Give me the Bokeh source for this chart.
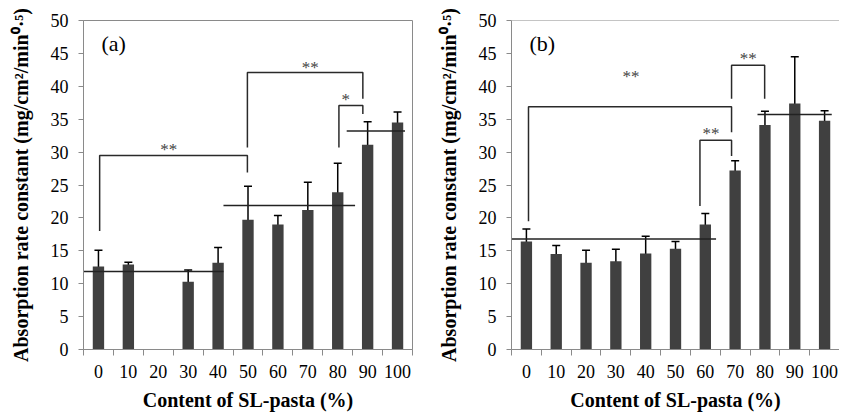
from bokeh.plotting import figure
from bokeh.layouts import row
from bokeh.models import (ColumnDataSource, Range1d, FixedTicker, Whisker, TeeHead,
                          Label, Span)
from bokeh.embed import file_html
from bokeh.resources import INLINE
from bokeh.core.properties import value
import math

# ---------------- data ----------------
categories = ["0", "10", "20", "30", "40", "50", "60", "70", "80", "90", "100"]

rate_a = [12.6, 12.9, float("nan"), 10.3, 13.2, 19.7, 19.0, 21.2, 23.9, 31.1, 34.5]
err_a = [2.5, 0.35, float("nan"), 1.8, 2.3, 5.1, 1.35, 4.2, 4.4, 3.5, 1.6]

rate_b = [16.4, 14.5, 13.2, 13.4, 14.6, 15.3, 19.0, 27.2, 34.1, 37.4, 34.75]
err_b = [1.9, 1.3, 1.9, 1.85, 2.6, 1.1, 1.65, 1.5, 2.1, 7.1, 1.55]

# group mean lines: (start position, end position, level)
means_a = [(0.0, 4.68, 11.85), (4.68, 9.08, 21.9), (8.8, 10.75, 33.2)]
means_b = [(0.0, 6.86, 16.8), (8.25, 10.74, 35.7)]

# significance brackets: (x left, x right, top, left leg end, right leg end, label, label x, label y)
brackets_a = [
    (0.54, 5.48, 29.5, 18.0, 26.9, "**", 2.85, 31.0),
    (5.48, 9.34, 42.1, 30.7, 38.1, "**", 7.58, 43.5),
    (8.54, 9.34, 37.1, 30.7, 35.8, "*", 8.77, 38.6),
]
brackets_b = [
    (0.57, 7.38, 36.9, 19.5, 33.0, "**", 4.01, 42.1),
    (6.32, 7.38, 31.8, 21.8, 29.4, "**", 6.69, 33.5),
    (7.38, 8.49, 43.2, 38.1, 38.1, "**", 7.94, 44.9),
]

y_ticks = list(range(0, 51, 5))
panel_tags = ["(a)", "(b)"]
y_title = "Absorption rate constant (mg/cm\u00b2/min\u2070\u00b7\u2075)"
x_title = "Content of SL-pasta (%)"

# ---------------- style ----------------
FONT = "Liberation Serif"
AXIS_GREY = "#8a8a8a"
BAR = "#404040"


def make_panel(rate, err, means, brackets, tag, width, bl, br, show_outline):
    p = figure(width=width, height=416, output_backend="svg", toolbar_location=None,
               x_range=Range1d(0, len(categories)), y_range=Range1d(0, 50),
               min_border_left=bl, min_border_right=br, min_border_top=20,
               min_border_bottom=67)
    p.grid.visible = False
    p.background_fill_color = "white"
    p.border_fill_color = "white"
    if show_outline:
        p.outline_line_color = AXIS_GREY
        p.outline_line_width = 1
    else:
        p.outline_line_color = None
        p.add_layout(Span(location=50, dimension="width", line_color=AXIS_GREY, line_width=1))

    xs = [i + 0.5 for i in range(len(categories))]
    keep = [i for i in range(len(categories)) if not math.isnan(rate[i])]
    src = ColumnDataSource(dict(
        x=[xs[i] for i in keep],
        top=[rate[i] for i in keep],
        upper=[rate[i] + err[i] for i in keep],
        lower=[rate[i] - err[i] for i in keep],
    ))
    p.vbar(x="x", top="top", width=0.38, source=src, fill_color=BAR, line_color=None)

    p.segment(x0=[m[0] for m in means], x1=[m[1] for m in means],
              y0=[m[2] for m in means], y1=[m[2] for m in means],
              line_color="#222222", line_width=1.5)

    w = Whisker(base="x", upper="upper", lower="lower", source=src, dimension="height",
                line_color="black", line_width=1.5,
                upper_head=TeeHead(size=8, line_color="black", line_width=1.5),
                lower_head=TeeHead(size=8, line_color="black", line_width=1.5))
    p.add_layout(w)

    bx = [[b[0], b[0], b[1], b[1]] for b in brackets]
    by = [[b[3], b[2], b[2], b[4]] for b in brackets]
    p.multi_line(xs=bx, ys=by, line_color="#2a2a2a", line_width=1.5)
    p.text(x=[b[6] for b in brackets], y=[b[7] for b in brackets],
           text=[b[5] for b in brackets], text_font=value(FONT),
           text_font_size="17px", text_color="#444444", text_align="center",
           text_baseline="middle", y_offset=4)

    p.add_layout(Label(x=0.6, y=46.5, text=tag, text_font=FONT, text_font_size="22px",
                       text_color="black", text_baseline="middle", text_align="left"))

    xa = p.xaxis[0]
    xa.ticker = FixedTicker(ticks=xs, minor_ticks=list(range(len(categories) + 1)))
    xa.major_label_overrides = {xs[i]: categories[i] for i in range(len(categories))}
    xa.major_tick_line_color = None
    xa.minor_tick_in = 0
    xa.minor_tick_out = 6
    xa.minor_tick_line_color = AXIS_GREY
    xa.axis_line_color = AXIS_GREY
    xa.major_label_text_font = FONT
    xa.major_label_text_font_size = "18px"
    xa.major_label_text_color = "black"
    xa.major_label_standoff = 9
    xa.axis_label = x_title
    xa.axis_label_text_font = FONT
    xa.axis_label_text_font_style = "bold"
    xa.axis_label_text_font_size = "20px"
    xa.axis_label_text_color = "black"
    xa.axis_label_standoff = 8

    ya = p.yaxis[0]
    ya.ticker = FixedTicker(ticks=y_ticks)
    ya.major_tick_in = 0
    ya.major_tick_out = 5
    ya.minor_tick_line_color = None
    ya.axis_line_color = AXIS_GREY
    ya.major_tick_line_color = AXIS_GREY
    ya.major_label_text_font = FONT
    ya.major_label_text_font_size = "18px"
    ya.major_label_text_color = "black"
    ya.major_label_standoff = 10
    ya.axis_label = y_title
    ya.axis_label_text_font = FONT
    ya.axis_label_text_font_style = "bold"
    ya.axis_label_text_font_size = "20px"
    ya.axis_label_text_color = "black"
    ya.axis_label_standoff = 16
    return p


pa = make_panel(rate_a, err_a, means_a, brackets_a, panel_tags[0], 424, 83, 12, True)
pb = make_panel(rate_b, err_b, means_b, brackets_b, panel_tags[1], 415, 87, 0, False)

layout = row(pa, pb)
open("out.html", "w").write(file_html(layout, INLINE))
